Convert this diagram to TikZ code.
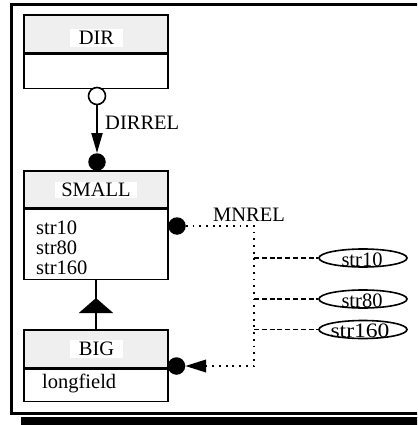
\documentclass[tikz,border=0pt]{standalone}
\usepackage{fontspec}
\setmainfont{Liberation Serif}
\usetikzlibrary{arrows.meta,shapes.geometric}
\definecolor{hdrgray}{RGB}{239,239,239}
\tikzset{
  boxline/.style={draw=black,line width=1.6pt},
  hdr/.style={boxline,fill=hdrgray,minimum width=144pt,inner sep=0pt},
  bodybox/.style={boxline,fill=white,minimum width=144pt,inner sep=0pt},
  seprule/.style={line width=2.6pt},
  ttl/.style={fill=white,inner sep=0pt,font=\fontsize{20.5}{20.5}\selectfont},
  txt/.style={inner sep=0pt,font=\fontsize{20.5}{20.5}\selectfont},
  dot/.style={circle,inner sep=0pt,minimum size=17.5pt,fill=black},
  odot/.style={circle,inner sep=0pt,minimum size=17pt,draw=black,fill=white,line width=1.6pt},
  conn/.style={line width=2pt},
  dotline/.style={line width=1.8pt,dash pattern=on 1.8pt off 4.9pt},
  dashline/.style={line width=1.6pt,dash pattern=on 5pt off 2.8pt},
  attr/.style={ellipse,draw=black,line width=1.6pt,minimum width=88pt,minimum height=18pt,inner sep=0pt},
}
\begin{document}
\begin{tikzpicture}[x=1pt,y=-1pt]
\useasboundingbox (0,0) rectangle (417,425);
\clip (0,0) rectangle (417,425);

% outer frame with shadow bar
\draw[line width=3pt] (430,4.5) -- (11.5,4.5) -- (11.5,413.5) -- (430,413.5);
\fill (21,416.5) rectangle (430,430);

% class DIR
\node[hdr,minimum height=38pt] (dirh) at (96,34) {};
\node[bodybox,minimum height=34pt,anchor=north] (dirb) at (dirh.south) {};
\draw[seprule] (dirh.south west) -- (dirh.south east);
\node[ttl,minimum width=53pt,minimum height=18pt] (dirt) at (96.5,38) {DIR};

% class SMALL
\node[hdr,minimum height=37pt] (smallh) at (96,189.5) {};
\node[bodybox,minimum height=70pt,anchor=north] (smallb) at (smallh.south) {};
\draw[seprule] (smallh.south west) -- (smallh.south east);
\node[ttl,minimum width=82pt,minimum height=16pt] (smallt) at (96,190) {SMALL};
\node[txt,anchor=base west] (sa1) at (36,234) {str10};
\node[txt,anchor=base west] (sa2) at (36,254) {str80};
\node[txt,anchor=base west] (sa3) at (36,274) {str160};

% class BIG
\node[hdr,minimum height=38pt] (bigh) at (96,349) {};
\node[bodybox,minimum height=32pt,anchor=north] (bigb) at (bigh.south) {};
\draw[seprule] (bigh.south west) -- (bigh.south east);
\node[ttl,minimum width=53pt,minimum height=18pt] (bigt) at (96.5,349) {BIG};
\node[txt,anchor=base west] (ba1) at (42,388) {longfield};

% relation DIRREL
\node[odot] (dirO) at (97,96) {};
\node[dot] (smallF) at (97,162) {};
\draw[conn,-{Triangle[length=20pt,width=11pt]}] (dirO.south) -- (smallF.north);
\node[txt,anchor=west] (dirrel) at (105,122.5) {DIRREL};

% inheritance BIG -> SMALL
\coordinate (inhTip) at (96,298);
\draw[conn] (smallb.south) -- (bigh.north);
\draw[conn,-{Triangle[length=15pt,width=34pt]}] (bigh.north) -- (inhTip);

% relation MNREL
\node[dot] (mnA) at (177,226) {};
\node[dot] (mnB) at (176.5,366) {};
\coordinate (mnJ) at (254,226);
\coordinate (mnK) at (254,366);
\coordinate (mnT) at (206,366);
\draw[dotline] (mnA.east) -- (mnJ) -- (mnK) -- (mnT);
\fill (mnB.east) -- (mnT |- 0,359.5) -- (mnT |- 0,372.5) -- cycle;
\node[txt,anchor=west] (mnrel) at (213,215) {MNREL};

% attribute ellipses
\node[attr] (e1) at (363,258) {};
\node[attr] (e2) at (363,299) {};
\node[attr] (e3) at (363,329.5) {};
\node[txt,anchor=base] (e1t) at (362,266) {str10};
\node[txt,anchor=base] (e2t) at (362,307) {str80};
\node[txt,anchor=base] (e3t) at (360,337.5) {\scalebox{1.15}[1]{str160}};
\coordinate (j1) at (254,258);
\coordinate (j2) at (254,299);
\coordinate (j3) at (254,329.5);
\draw[dashline] (j1) -- (e1.west);
\draw[dashline] (j2) -- (e2.west);
\draw[dashline] (j3) -- (e3.west);
\end{tikzpicture}
\end{document}
